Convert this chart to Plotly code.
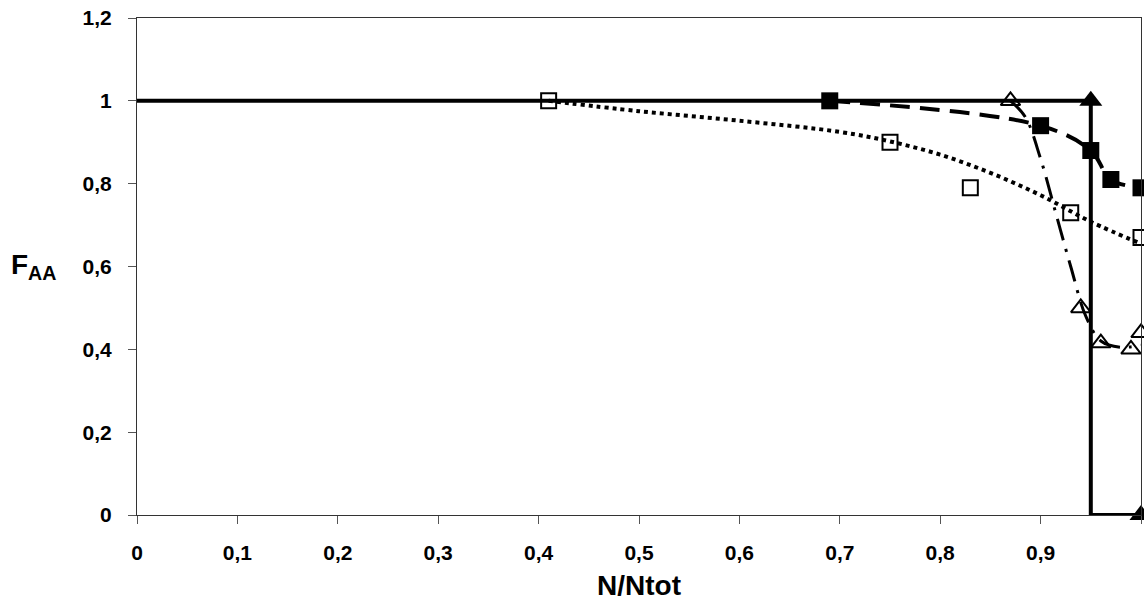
import plotly.graph_objects as go

# --- data -------------------------------------------------------------
# step series (filled triangles): drawn with a vertical-then-horizontal step
step_x = [0.0, 0.95, 1.0]
step_y = [1.0, 1.0, 0.0]
# points of the step series that carry a marker
step_mark_x = [0.95, 1.0]
step_mark_y = [1.0, 0.0]

# filled squares, dashed smooth line
fsq_x = [0.69, 0.90, 0.95, 0.97, 1.00]
fsq_y = [1.00, 0.94, 0.88, 0.81, 0.79]

# open squares and their dotted trend curve
osq_x = [0.41, 0.75, 0.83, 0.93, 1.00]
osq_y = [1.00, 0.90, 0.79, 0.73, 0.67]
osq_fit_x = [0.41, 0.50, 0.60, 0.70, 0.75, 0.80, 0.85, 0.90, 0.95, 1.00]
osq_fit_y = [1.00, 0.975, 0.952, 0.925, 0.902, 0.87, 0.826, 0.772, 0.708, 0.655]

# open triangles and their dash-dot trend curve
otr_x = [0.87, 0.94, 0.96, 0.99, 1.00]
otr_y = [1.00, 0.50, 0.415, 0.40, 0.44]
otr_fit_x = [0.87, 0.885, 0.90, 0.915, 0.93, 0.945, 0.96, 0.98, 1.00]
otr_fit_y = [1.00, 0.96, 0.86, 0.73, 0.60, 0.48, 0.42, 0.405, 0.41]

# axis ticks
x_ticks = [0.0, 0.1, 0.2, 0.3, 0.4, 0.5, 0.6, 0.7, 0.8, 0.9, 1.0]
x_tick_text = ["0", "0,1", "0,2", "0,3", "0,4", "0,5", "0,6", "0,7", "0,8", "0,9", "1"]
y_ticks = [0.0, 0.2, 0.4, 0.6, 0.8, 1.0, 1.2]
y_tick_text = ["0", "0,2", "0,4", "0,6", "0,8", "1", "1,2"]

FONT = "Liberation Sans, Arial, sans-serif"
BLACK = "#000000"

fig = go.Figure()

# dotted trend through the open squares
fig.add_trace(go.Scatter(
    x=osq_fit_x, y=osq_fit_y, mode="lines", line_shape="spline",
    line=dict(color=BLACK, width=4, dash="4px,4px"),
    hoverinfo="skip", showlegend=False,
))
# dash-dot trend through the open triangles
fig.add_trace(go.Scatter(
    x=otr_fit_x, y=otr_fit_y, mode="lines", line_shape="spline",
    line=dict(color=BLACK, width=3, dash="22px,9px,3px,9px"),
    hoverinfo="skip", showlegend=False,
))
# step line
fig.add_trace(go.Scatter(
    x=step_x, y=step_y, mode="lines", line_shape="vh",
    line=dict(color=BLACK, width=4),
    cliponaxis=False, showlegend=False,
))
# filled triangles on the step line
fig.add_trace(go.Scatter(
    x=step_mark_x, y=step_mark_y, mode="markers",
    marker=dict(symbol="triangle-up", size=20, color=BLACK,
                line=dict(width=0)),
    cliponaxis=False, showlegend=False,
))
# dashed line with filled squares
fig.add_trace(go.Scatter(
    x=fsq_x, y=fsq_y, mode="lines+markers", line_shape="spline",
    line=dict(color=BLACK, width=4, dash="20px,10px"),
    marker=dict(symbol="square", size=17, color=BLACK),
    cliponaxis=False, showlegend=False,
))
# open squares
fig.add_trace(go.Scatter(
    x=osq_x, y=osq_y, mode="markers",
    marker=dict(symbol="square-open", size=15, color=BLACK, line=dict(width=2, color=BLACK)),
    cliponaxis=False, showlegend=False,
))
# open triangles
fig.add_trace(go.Scatter(
    x=otr_x, y=otr_y, mode="markers",
    marker=dict(symbol="triangle-up-open", size=17, color=BLACK, line=dict(width=2, color=BLACK)),
    cliponaxis=False, showlegend=False,
))

axis_common = dict(
    showgrid=False, zeroline=False,
    showline=True, linecolor="#333333", linewidth=1, mirror=True,
    ticks="outside", ticklen=8, tickwidth=1, tickcolor="#555555",
    tickfont=dict(family=FONT, size=21, color=BLACK, weight="bold"),
)

fig.update_layout(
    width=1144, height=601,
    margin=dict(l=137, r=3, t=18, b=86),
    paper_bgcolor="white", plot_bgcolor="white",
    xaxis=dict(range=[0, 1], tickvals=x_ticks, ticktext=x_tick_text,
               ticklabelstandoff=11, **axis_common),
    yaxis=dict(range=[0, 1.2], tickvals=y_ticks, ticktext=y_tick_text,
               ticklabelstandoff=12, **axis_common),
    annotations=[
        dict(text="<b>N/Ntot</b>", xref="paper", yref="paper", x=0.5, y=-0.106,
             xanchor="center", yanchor="top", showarrow=False,
             font=dict(family=FONT, size=28, color=BLACK)),
        dict(text="<b>F<sub>AA</sub></b>", xref="paper", yref="paper",
             x=-0.127, y=0.5, xanchor="left", yanchor="middle", showarrow=False,
             font=dict(family=FONT, size=28, color=BLACK)),
    ],
)

fig.write_html("out.html")
